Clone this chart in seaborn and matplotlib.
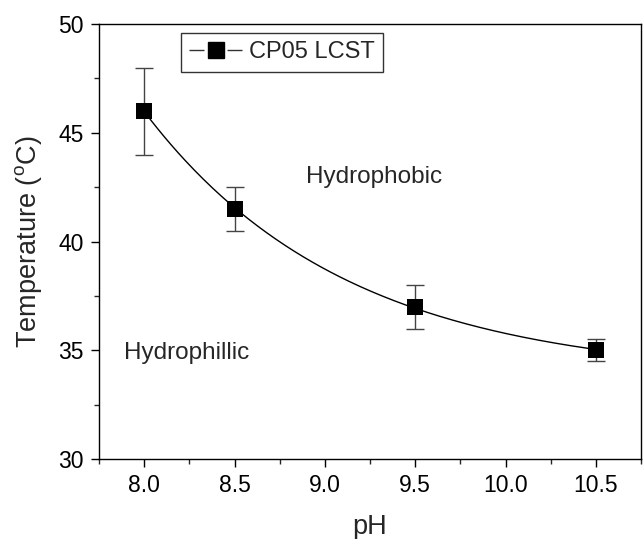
import numpy as np
import matplotlib
matplotlib.use("Agg")
import matplotlib.pyplot as plt
import seaborn as sns
from matplotlib.lines import Line2D
from matplotlib.ticker import MultipleLocator, FormatStrFormatter

# ---- data ----
ph = [8.0, 8.5, 9.5, 10.5]
temp = [46.0, 41.5, 37.0, 35.0]
err = [2.0, 1.0, 1.0, 0.5]
series_label = "CP05 LCST"
x_label = "pH"
y_label = r"Temperature ($\mathregular{^{o}}$C)"
region_labels = ["Hydrophobic", "Hydrophillic"]

sns.set_theme(style="ticks")
plt.rcParams['font.family'] = ['Liberation Sans', 'DejaVu Sans']
plt.rcParams['mathtext.fontset'] = 'custom'
plt.rcParams['mathtext.rm'] = 'Liberation Sans'

# exponential decay fit y = y0 + A*exp(-(x-8)/t)
xa = np.array(ph); ya = np.array(temp)
best = None
for t in np.linspace(0.2, 10, 2000):
    M = np.column_stack([np.ones_like(xa), np.exp(-(xa - 8.0) / t)])
    coef, *_ = np.linalg.lstsq(M, ya, rcond=None)
    r = np.sum((M @ coef - ya) ** 2)
    if best is None or r < best[0]:
        best = (r, t, coef)
_, tb, cb = best
xf = np.linspace(8.0, 10.5, 200)
yf = cb[0] + cb[1] * np.exp(-(xf - 8.0) / tb)

fig = plt.figure(figsize=(6.43, 5.39), dpi=100)
ax = fig.add_axes([0.154, 0.1484, 0.843, 0.807])

sns.lineplot(x=xf, y=yf, ax=ax, color='black', lw=1.0, legend=False)
ax.errorbar(ph, temp, yerr=err, fmt='none', ecolor='#444444', elinewidth=1.0,
            capsize=6.5, capthick=1.0, zorder=3)
sns.scatterplot(x=ph, y=temp, ax=ax, marker='s', s=125, color='black',
                edgecolor='black', linewidth=0, zorder=4, legend=False)

ax.set_xlim(7.75, 10.75)
ax.set_ylim(30, 50)
ax.xaxis.set_major_locator(MultipleLocator(0.5))
ax.xaxis.set_minor_locator(MultipleLocator(0.25))
ax.yaxis.set_major_locator(MultipleLocator(5))
ax.yaxis.set_minor_locator(MultipleLocator(2.5))
ax.xaxis.set_major_formatter(FormatStrFormatter('%.1f'))
ax.tick_params(which='major', direction='out', length=6, width=1, labelsize=16.5,
               colors='black', top=False, right=False, pad=5)
ax.tick_params(which='minor', direction='out', length=3.5, width=1,
               top=False, right=False)
for s in ax.spines.values():
    s.set_visible(True)
    s.set_color('black')
    s.set_linewidth(1.0)

ax.set_xlabel(x_label, fontsize=19.5, labelpad=12)
ax.set_ylabel(y_label, fontsize=19.5, labelpad=10)

ax.text(8.895, 42.97, region_labels[0], fontsize=17.5, va='center', ha='left')
ax.text(7.89, 34.87, region_labels[1], fontsize=17.5, va='center', ha='left')

h = Line2D([], [], color='#333333', lw=1.0, linestyle=(0, (10.8, 16.6)),
           marker='s', markersize=12, markerfacecolor='black',
           markeredgecolor='black')
leg = ax.legend([h], [series_label], loc='upper left', bbox_to_anchor=(0.151, 0.979),
                borderaxespad=0, fontsize=17, frameon=True, fancybox=False,
                edgecolor='black', handlelength=2.25, handletextpad=0.3,
                borderpad=0.35)
leg.get_frame().set_linewidth(1.0)

fig.savefig("out.png", dpi=100)
